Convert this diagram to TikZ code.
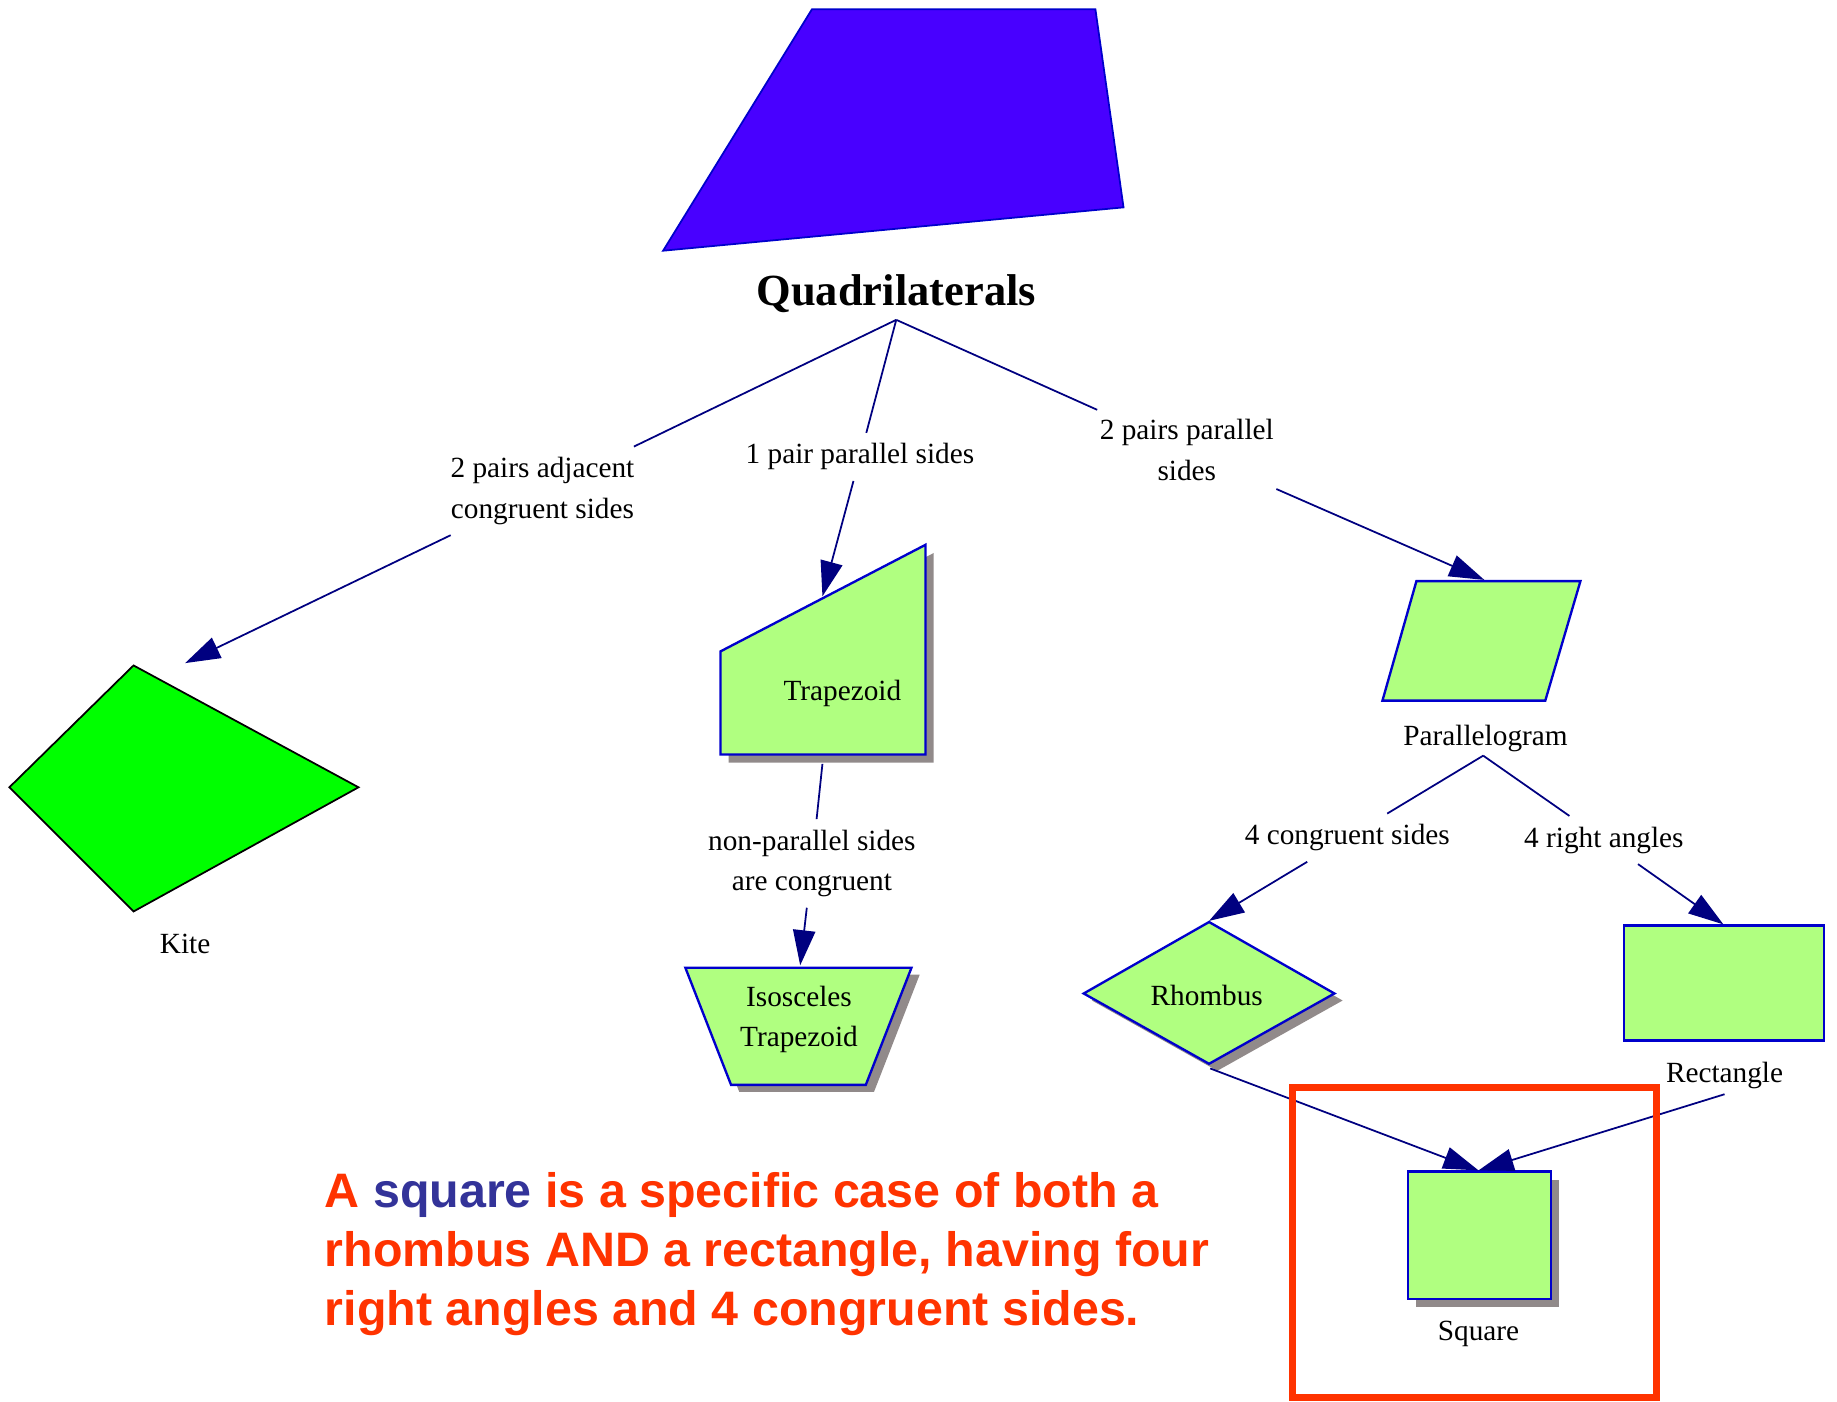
\documentclass[tikz,border=0pt]{standalone}
\usepackage{fontspec}
\setmainfont{Liberation Serif}
\newfontfamily\arialb{Liberation Sans}
\usetikzlibrary{arrows.meta}
\definecolor{navyE}{HTML}{000080}
\definecolor{nodeBlue}{HTML}{0000CC}
\definecolor{lgreen}{HTML}{B0FF80}
\definecolor{shadowG}{HTML}{918A8A}
\definecolor{quadFill}{HTML}{4800FF}
\definecolor{redO}{HTML}{FF3300}
\definecolor{sqBlue}{HTML}{333399}
\definecolor{kiteG}{HTML}{00FF00}
\begin{document}
\begin{tikzpicture}[x=1pt,y=-1pt,
  edge/.style={draw=navyE, line width=1.5pt},
  arr/.style={edge, -{Triangle[length=30pt,width=19pt]}},
  elabel/.style={font=\fontsize{25}{34.5}\selectfont, align=center, inner xsep=2pt, inner ysep=9pt},
  gshape/.style={fill=lgreen, draw=nodeBlue, line width=2pt, line join=miter},
  gshadow/.style={fill=shadowG},
  ntext/.style={font=\fontsize{25}{34.5}\selectfont, inner sep=0pt, align=center},
  bigtext/.style={anchor=base west, inner sep=0pt, text=redO, font=\arialb\bfseries\fontsize{41.3}{50}\selectfont},
]
\useasboundingbox (0,0) rectangle (1568,1196);

% top quadrilateral
\filldraw[fill=quadFill, draw=nodeBlue, line width=1.5pt] (693,8) -- (935,8) -- (959,177) -- (566,214) -- cycle;
\node[font=\fontsize{38}{44}\selectfont\bfseries, inner sep=0pt] (quadlbl) at (765,251) {Quadrilaterals};
\coordinate (qapex) at (765,273);

% kite
\filldraw[fill=kiteG, draw=black, line width=1.5pt] (114,568) -- (306,672) -- (114,778) -- (8,672) -- cycle;
\node[ntext] (kitelbl) at (158,806) {Kite};
\coordinate (kiteTop) at (158,566);

% trapezoid
\fill[gshadow, shift={(7,7)}] (615,556) -- (790,465) -- (790,644) -- (615,644) -- cycle;
\path[gshape] (615,556) -- (790,465) -- (790,644) -- (615,644) -- cycle;
\node[ntext] (trap) at (719,592) {Trapezoid};
\coordinate (trapTop) at (702,509);
\coordinate (trapBot) at (702,652);

% isosceles trapezoid
\fill[gshadow, shift={(7,6)}] (585,826) -- (778,826) -- (739,926) -- (624,926) -- cycle;
\path[gshape] (585,826) -- (778,826) -- (739,926) -- (624,926) -- cycle;
\node[ntext] (iso) at (682,870) {Isosceles\\Trapezoid};
\coordinate (isoTop) at (683,824);

% parallelogram
\path[gshape] (1209,496) -- (1349,496) -- (1319,598) -- (1180,598) -- cycle;
\node[ntext] (parlbl) at (1268,630) {Parallelogram};
\coordinate (parTop) at (1267,495);
\coordinate (parBot) at (1266,645);

% rhombus
\fill[gshadow, shift={(7,6)}] (1032,787) -- (1139,848) -- (1032,908) -- (925,848) -- cycle;
\path[gshape] (1032,787) -- (1139,848) -- (1032,908) -- (925,848) -- cycle;
\node[ntext] (rh) at (1030,850) {Rhombus};
\coordinate (rhTop) at (1032,786);
\coordinate (rhBot) at (1033,912);

% rectangle
\path[gshape] (1386,790) rectangle (1557,888);
\node[ntext] (relbl) at (1472,918) {Rectangle};
\coordinate (reTop) at (1471,789);
\coordinate (reBot) at (1472,934);

% square
\fill[gshadow, shift={(7,7)}] (1202,1000) rectangle (1324,1109);
\path[gshape] (1202,1000) rectangle (1324,1109);
\node[ntext] (sqlbl) at (1262,1139) {Square};
\coordinate (sqTop) at (1262,999);

% edge labels
\node[elabel] (l1) at (463,419) {2 pairs adjacent\\congruent sides};
\node[elabel] (l2) at (734,390) {1 pair parallel sides};
\node[elabel] (l3) at (1013,384) {2 pairs parallel\\sides};
\node[elabel] (l4) at (693,737) {non-parallel sides\\are congruent};
\node[elabel] (l5) at (1150,715) {4 congruent sides};
\node[elabel] (l6) at (1369,717) {4 right angles};

% edges
\draw[arr] (qapex) -- (l1) -- (kiteTop);
\draw[arr] (qapex) -- (l2) -- (trapTop);
\draw[arr] (qapex) -- (l3) -- (parTop);
\draw[arr] (trapBot) -- (l4) -- (isoTop);
\draw[arr] (parBot) -- (l5) -- (rhTop);
\draw[arr] (parBot) -- (l6) -- (reTop);
\draw[arr] (rhBot) -- (sqTop);
\draw[arr] (reBot) -- (sqTop);

% highlight box
\draw[redO, line width=6pt] (1103,928) rectangle (1414,1193);

% statement
\node[bigtext] (txt1) at (277,1031) {A \textcolor{sqBlue}{square} is a specific case of both a};
\node[bigtext] (txt2) at (277,1081) {rhombus AND a rectangle, having four};
\node[bigtext] (txt3) at (277,1131) {right angles and 4 congruent sides.};
\end{tikzpicture}
\end{document}
